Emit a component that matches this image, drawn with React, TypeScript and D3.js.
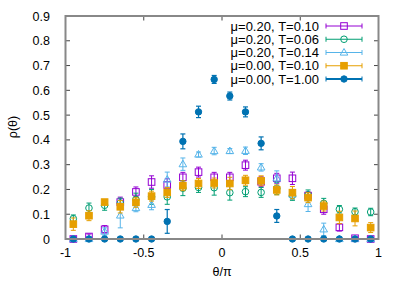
import * as d3 from "d3";
import { useEffect, useRef } from "react";

// theta / pi bin centres
const thetas = [
  -0.95, -0.85, -0.75, -0.65, -0.55, -0.45, -0.35, -0.25, -0.15, -0.05,
  0.05, 0.15, 0.25, 0.35, 0.45, 0.55, 0.65, 0.75, 0.85, 0.95,
];

// mu=0.20, T=0.10
const rhoA = [0, 0.01, 0.039, 0.149, 0.19, 0.23, 0.218, 0.249, 0.27, 0.249, 0.249, 0.298, 0.231, 0.245, 0.245, 0.175, 0.12, 0.047, 0.003, 0];
const errA = [0, 0.01, 0.015, 0.02, 0.02, 0.025, 0.025, 0.02, 0.02, 0.02, 0.02, 0.02, 0.02, 0.02, 0.025, 0.015, 0.02, 0.015, 0.005, 0];
// mu=0.20, T=0.06
const rhoB = [0.082, 0.125, 0.136, 0.145, 0.16, 0.17, 0.17, 0.205, 0.208, 0.207, 0.187, 0.191, 0.188, 0.204, 0.176, 0.178, 0.144, 0.12, 0.11, 0.109];
const errB = [0.015, 0.02, 0.02, 0.02, 0.025, 0.03, 0.03, 0.03, 0.02, 0.03, 0.03, 0.02, 0.02, 0.025, 0.02, 0.02, 0.02, 0.015, 0.015, 0.015];
// mu=0.20, T=0.14
const rhoC = [0, 0, 0.03, 0.095, 0.125, 0.138, 0.24, 0.302, 0.341, 0.355, 0.355, 0.356, 0.289, 0.245, 0.18, 0.141, 0.039, 0, 0, 0];
const errC = [0, 0, 0.015, 0.05, 0.015, 0.02, 0.03, 0.025, 0.01, 0.015, 0.01, 0.015, 0.015, 0.03, 0.02, 0.03, 0.025, 0, 0, 0];
// mu=0.00, T=0.10
const rhoD = [0.06, 0.094, 0.149, 0.13, 0.148, 0.173, 0.188, 0.215, 0.224, 0.226, 0.224, 0.237, 0.235, 0.198, 0.187, 0.167, 0.133, 0.087, 0.083, 0.046];
const errD = [0.025, 0.02, 0.01, 0.025, 0.02, 0.02, 0.02, 0.02, 0.02, 0.02, 0.025, 0.02, 0.02, 0.02, 0.025, 0.02, 0.02, 0.025, 0.03, 0.02];
// mu=0.00, T=1.00
const rhoE = [0, 0, 0, 0, 0, 0, 0.071, 0.394, 0.513, 0.644, 0.577, 0.513, 0.386, 0.093, 0, 0, 0, 0, 0, 0];
const errE = [0, 0, 0, 0, 0, 0, 0.048, 0.03, 0.023, 0.016, 0.016, 0.02, 0.026, 0.026, 0, 0, 0, 0, 0, 0];

const labels = ["μ=0.20, T=0.10", "μ=0.20, T=0.06", "μ=0.20, T=0.14", "μ=0.00, T=0.10", "μ=0.00, T=1.00"];
const colors = ["#9400d3", "#009e73", "#56b4e9", "#e69f00", "#0072b2"];
const symbols = ["square", "circle", "triangle", "fsquare", "fcircle"];

const yTicks = [0, 0.1, 0.2, 0.3, 0.4, 0.5, 0.6, 0.7, 0.8, 0.9];
const xTicks = [-1, -0.5, 0, 0.5, 1];

const App = () => {
  const ref = useRef(null);

  useEffect(() => {
    var width = 403;
    var height = 282;
    var font = "'Liberation Sans', Arial, sans-serif";

    var svg = d3
      .select(ref.current)
      .append("svg")
      .attr("width", width)
      .attr("height", height)
      .style("display", "block")
      .style("font-family", font);

    var x = d3.scaleLinear().domain([-1, 1]).range([65.5, 378.5]);
    var y = d3.scaleLinear().domain([0, 0.9]).range([239, 16]);
    var fmt = (v: number) => String(v).replace("−", "-");

    var series = [rhoA, rhoB, rhoC, rhoD, rhoE].map((vals, i) => ({
      vals: vals,
      errs: [errA, errB, errC, errD, errE][i],
      color: colors[i],
      symbol: symbols[i],
      label: labels[i],
    }));

    // ticks, inward and mirrored
    var tk = 4.5;
    var ticks = svg.append("g").attr("stroke", "#444").attr("stroke-width", 1);
    yTicks.forEach((t) => {
      ticks.append("line").attr("x1", x(-1)).attr("x2", x(-1) + tk).attr("y1", y(t)).attr("y2", y(t));
      ticks.append("line").attr("x1", x(1)).attr("x2", x(1) - tk).attr("y1", y(t)).attr("y2", y(t));
    });
    xTicks.forEach((t) => {
      ticks.append("line").attr("x1", x(t)).attr("x2", x(t)).attr("y1", y(0)).attr("y2", y(0) - tk);
      ticks.append("line").attr("x1", x(t)).attr("x2", x(t)).attr("y1", y(0.9)).attr("y2", y(0.9) + tk);
    });

    svg
      .selectAll("ylab")
      .data(yTicks)
      .enter()
      .append("text")
      .attr("x", 50)
      .attr("y", (d) => y(d) + 4.5)
      .attr("text-anchor", "end")
      .style("font-size", "12.5px")
      .text((d) => fmt(d));

    svg
      .selectAll("xlab")
      .data(xTicks)
      .enter()
      .append("text")
      .attr("x", (d) => x(d))
      .attr("y", 257)
      .attr("text-anchor", "middle")
      .style("font-size", "12.5px")
      .text((d) => fmt(d));

    svg
      .append("text")
      .attr("transform", "translate(17,127) rotate(-90)")
      .attr("text-anchor", "middle")
      .style("font-size", "12.5px")
      .text("ρ(θ)");

    svg
      .append("text")
      .attr("x", x(0))
      .attr("y", 276)
      .attr("text-anchor", "middle")
      .style("font-size", "12.5px")
      .text("θ/π");

    var drawMarker = (g: any, sym: string, color: string, cx: number, cy: number) => {
      if (sym === "square" || sym === "fsquare") {
        g.append("rect")
          .attr("x", cx - 3.3)
          .attr("y", cy - 3.3)
          .attr("width", 6.6)
          .attr("height", 6.6)
          .attr("fill", sym === "fsquare" ? color : "none")
          .attr("stroke", color)
          .attr("stroke-width", 1);
      } else if (sym === "circle" || sym === "fcircle") {
        g.append("circle")
          .attr("cx", cx)
          .attr("cy", cy)
          .attr("r", sym === "fcircle" ? 3.2 : 3.3)
          .attr("fill", sym === "fcircle" ? color : "none")
          .attr("stroke", color)
          .attr("stroke-width", 1);
      } else {
        g.append("path")
          .attr("d", `M${cx},${cy - 4} L${cx + 3.8},${cy + 2.6} L${cx - 3.8},${cy + 2.6} Z`)
          .attr("fill", "none")
          .attr("stroke", color)
          .attr("stroke-width", 1);
      }
    };

    // data with error bars, drawn in plot order
    series.forEach((s) => {
      var g = svg.append("g");
      var lw = s.symbol === "fcircle" ? 1.2 : 1;
      s.vals.forEach((v, i) => {
        var cx = x(thetas[i]);
        var lo = y(Math.max(0, v - s.errs[i]));
        var hi = y(v + s.errs[i]);
        if (s.errs[i] > 0) {
          g.append("line").attr("x1", cx).attr("x2", cx).attr("y1", lo).attr("y2", hi)
            .attr("stroke", s.color).attr("stroke-width", lw);
          [lo, hi].forEach((yy) => {
            g.append("line").attr("x1", cx - 2.5).attr("x2", cx + 2.5).attr("y1", yy).attr("y2", yy)
              .attr("stroke", s.color).attr("stroke-width", lw);
          });
        }
        drawMarker(g, s.symbol, s.color, cx, y(v));
      });
    });

    // border
    svg
      .append("rect")
      .attr("x", x(-1))
      .attr("y", y(0.9))
      .attr("width", x(1) - x(-1))
      .attr("height", y(0) - y(0.9))
      .attr("fill", "none")
      .attr("stroke", "#888")
      .attr("stroke-width", 2);

    // key
    var key = svg.append("g");
    series.forEach((s, i) => {
      var ky = 26 + i * 13.25;
      key
        .append("text")
        .attr("x", 319)
        .attr("y", ky + 4.5)
        .attr("text-anchor", "end")
        .style("font-size", "13px")
        .text(s.label);
      var lw = s.symbol === "fcircle" ? 2 : 1;
      key.append("line").attr("x1", 326).attr("x2", 362).attr("y1", ky).attr("y2", ky)
        .attr("stroke", s.color).attr("stroke-width", lw);
      [326, 362].forEach((xx) => {
        key.append("line").attr("x1", xx).attr("x2", xx).attr("y1", ky - 2.5).attr("y2", ky + 2.5)
          .attr("stroke", s.color).attr("stroke-width", 1);
      });
      drawMarker(key, s.symbol, s.color, 344, ky);
    });

    return function () {
      svg.remove();
    };
  }, []);

  return <div ref={ref} style={{ position: "absolute", left: 0, top: 0 }} />;
};

export default App;
